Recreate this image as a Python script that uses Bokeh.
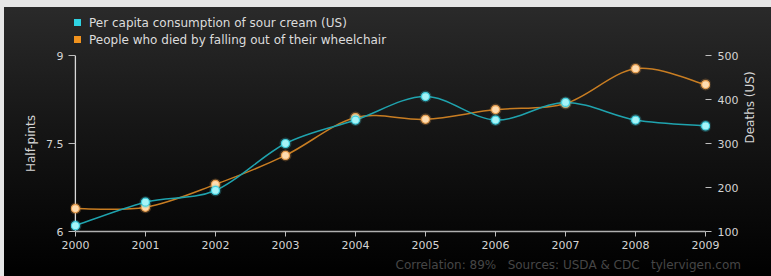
import math
import numpy as np
from bokeh.plotting import figure
from bokeh.layouts import column
from bokeh.models import (Range1d, LinearAxis, FixedTicker, Div, Title, ColumnDataSource)
from bokeh.embed import file_html
from bokeh.resources import INLINE

years = [2000, 2001, 2002, 2003, 2004, 2005, 2006, 2007, 2008, 2009]
sour_cream = [6.1, 6.5, 6.7, 7.5, 7.9, 8.3, 7.9, 8.2, 7.9, 7.8]
wheelchair_deaths = [152, 155, 207, 273, 359, 355, 377, 391, 470, 434]
left_ticks = [6, 7.5, 9]
right_ticks = [100, 200, 300, 400, 500]
series_names = ["Per capita consumption of sour cream (US)",
                "People who died by falling out of their wheelchair"]
footer_parts = ["Correlation: 89%", "Sources: USDA & CDC", "tylervigen.com"]

FONT = "DejaVu Sans"
CYAN_LINE, CYAN_FILL, CYAN_EDGE = "#1fa3ae", "#a6f4f8", "#40d0e0"
ORANGE_LINE, ORANGE_FILL, ORANGE_EDGE = "#c87d22", "#ffdcb0", "#eaa050"
CYAN_KEY, ORANGE_KEY = "#2fd3e3", "#f0921e"


def spline_segments(xs, ys):
    """Catmull-Rom control points for a smooth curve through the data."""
    x = np.asarray(xs, float)
    y = np.asarray(ys, float)
    n = len(x)
    xp = np.concatenate([[x[0]], x, [x[-1]]])
    yp = np.concatenate([[y[0]], y, [y[-1]]])
    out = {k: [] for k in ["x0", "y0", "x1", "y1", "cx0", "cy0", "cx1", "cy1"]}
    for i in range(n - 1):
        a, b, c, d = i, i + 1, i + 2, i + 3
        out["x0"].append(xp[b]); out["y0"].append(yp[b])
        out["x1"].append(xp[c]); out["y1"].append(yp[c])
        out["cx0"].append(xp[b] + (xp[c] - xp[a]) / 6.0)
        out["cy0"].append(yp[b] + (yp[c] - yp[a]) / 6.0)
        out["cx1"].append(xp[c] - (xp[d] - xp[b]) / 6.0)
        out["cy1"].append(yp[c] - (yp[d] - yp[b]) / 6.0)
    return out


# ---- legend (HTML) ----
def key_row(color, label, top):
    return (f'<div style="position:absolute;left:74px;top:{top}px;height:17px;'
            f'line-height:17px;white-space:nowrap;">'
            f'<span style="display:inline-block;width:7px;height:7px;background:{color};'
            f'margin-right:8px;vertical-align:middle;position:relative;top:-1px;"></span>'
            f'{label}</div>')


legend_html = ('<div style="position:relative;width:771px;height:48px;'
               f'font-family:\'{FONT}\';font-size:12px;color:#dcdcdc;">'
               + key_row(CYAN_KEY, series_names[0], 15)
               + key_row(ORANGE_KEY, series_names[1], 32)
               + '</div>')
legend_div = Div(text=legend_html, width=771, height=48, margin=0)

# ---- chart ----
p = figure(width=771, height=228, output_backend="svg", toolbar_location=None,
           x_range=Range1d(1999.93, 2009.07), y_range=Range1d(6, 9),
           min_border_left=70, min_border_right=61, min_border_top=7,
           min_border_bottom=45, y_axis_location=None, margin=0)
p.extra_y_ranges = {"deaths": Range1d(100, 500)}

p.border_fill_alpha = 0
p.background_fill_alpha = 0
p.outline_line_alpha = 0
p.xgrid.visible = False
p.ygrid.visible = False

left = LinearAxis(ticker=FixedTicker(ticks=left_ticks), axis_label="Half-pints")
right = LinearAxis(y_range_name="deaths", ticker=FixedTicker(ticks=right_ticks),
                   axis_label="Deaths (US)")
p.add_layout(left, "left")
p.add_layout(right, "right")
p.xaxis.ticker = FixedTicker(ticks=years)
p.xaxis.bounds = (years[0], years[-1])

for ax in [left, right] + list(p.xaxis):
    ax.major_label_text_font = FONT
    ax.major_label_text_font_size = "11px"
    ax.major_label_text_color = "#d4d4d4"
    ax.axis_label_text_font = FONT
    ax.axis_label_text_font_size = "12px"
    ax.axis_label_text_font_style = "normal"
    ax.axis_label_text_color = "#d4d4d4"
    ax.major_tick_line_color = "#bdbdbd"
    ax.minor_tick_line_color = None
    ax.major_tick_in = 0

left.axis_line_alpha = 0
left.major_tick_out = 2
left.major_tick_in = 5
left.major_label_standoff = 5
left.axis_label_standoff = 5
right.axis_line_alpha = 0
right.major_tick_out = 1
right.major_tick_in = 5
right.major_label_standoff = 6
right.axis_label_standoff = 9
right.axis_label_orientation = math.pi / 2
p.xaxis.major_tick_out = 5
p.xaxis.major_label_standoff = 4
p.xaxis.axis_line_color = "#b0b0b0"
p.xaxis.axis_line_width = 1.5

# left axis line at the first year, spanning the left scale
p.segment(x0=[years[0]], y0=[left_ticks[0]], x1=[years[0]], y1=[left_ticks[-1]],
          line_color="#d8d8d8", line_width=1.3)

src_c = ColumnDataSource(spline_segments(years, sour_cream))
src_o = ColumnDataSource(spline_segments(years, wheelchair_deaths))
p.bezier(x0="x0", y0="y0", x1="x1", y1="y1", cx0="cx0", cy0="cy0", cx1="cx1", cy1="cy1",
         source=src_o, line_color=ORANGE_LINE, line_width=1.5, y_range_name="deaths")
p.bezier(x0="x0", y0="y0", x1="x1", y1="y1", cx0="cx0", cy0="cy0", cx1="cx1", cy1="cy1",
         source=src_c, line_color=CYAN_LINE, line_width=1.5)

p.scatter(years, wheelchair_deaths, size=12, fill_color=ORANGE_EDGE, fill_alpha=0.25,
          line_alpha=0, y_range_name="deaths")
p.scatter(years, wheelchair_deaths, size=8, fill_color=ORANGE_FILL, line_color=ORANGE_EDGE,
          line_width=1.2, y_range_name="deaths")
p.scatter(years, sour_cream, size=12, fill_color=CYAN_EDGE, fill_alpha=0.25, line_alpha=0)
p.scatter(years, sour_cream, size=8, fill_color=CYAN_FILL, line_color=CYAN_EDGE,
          line_width=1.2)

gap = "\u00a0" * 3
footer = Title(text=gap.join(footer_parts), align="left", offset=325,
               text_font=FONT, text_font_size="12px", text_color="#464646",
               text_font_style="normal", standoff=8)
p.add_layout(footer, "below")

page = column(legend_div, p, spacing=0, margin=0, styles={
    "background": ("linear-gradient(to right, #e6e6e6 4px, transparent 4px), "
                   "linear-gradient(to bottom, #e6e6e6 7px, #2a2a2a 7px, "
                   "#161616 45%, #000000 100%)")
})

open("out.html", "w").write(file_html(page, INLINE))
